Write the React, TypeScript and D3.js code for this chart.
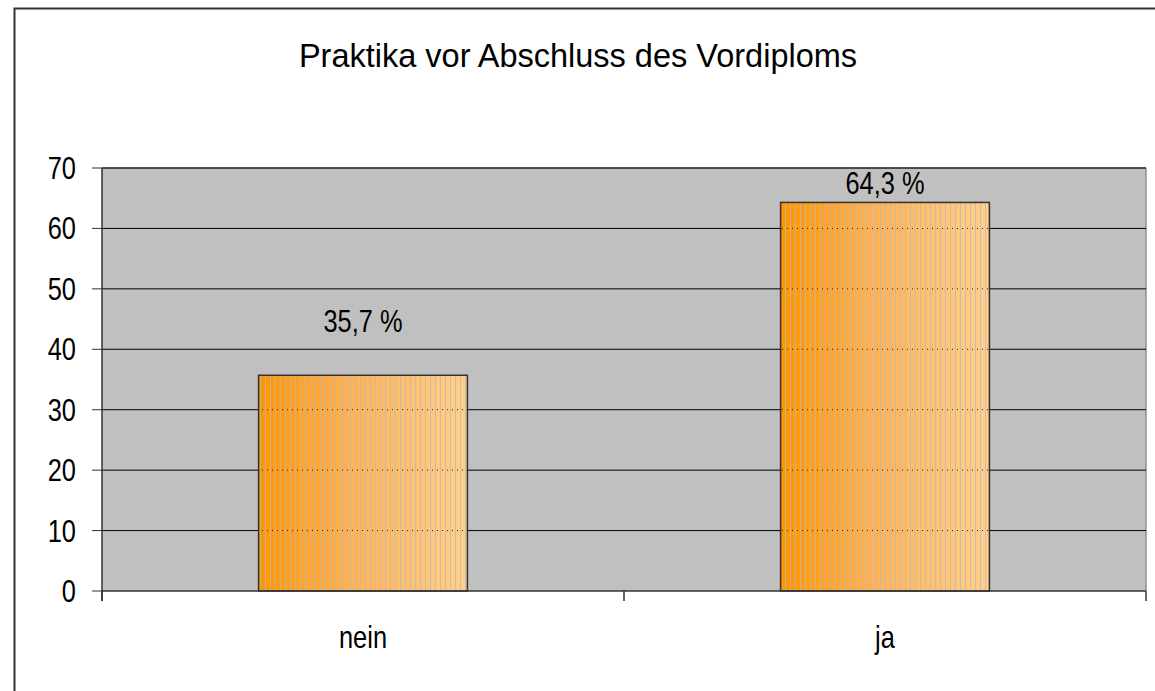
import * as d3 from "d3";

const categories = ["nein", "ja"];
const values = [35.7, 64.3];
const valueLabels = ["35,7 %", "64,3 %"];
const yTicks = [0, 10, 20, 30, 40, 50, 60, 70];
const title = "Praktika vor Abschluss des Vordiploms";

const W = 1155;
const H = 691;
const FONT = "'Liberation Sans', Arial, sans-serif";

// no Arial Narrow available, so squeeze Liberation Sans horizontally
function Narrow({ x, y, anchor = "middle", size = 31, children }: any) {
  return (
    <text
      transform={`translate(${x},${y}) scale(0.82,1)`}
      textAnchor={anchor}
      fontSize={size}
      fill="#000"
    >
      {children}
    </text>
  );
}

export default function App() {
  const left = 102;
  const right = 1146;
  const top = 168;
  const bottom = 591;

  const x = d3.scaleBand<string>().domain(categories).range([left, right]).padding(0);
  const y = d3.scaleLinear().domain([0, 70]).range([bottom, top]);
  const barW = x.bandwidth() * 0.4;
  // excel put the labels at slightly different heights
  const labelGap = [43, 8];

  return (
    <svg
      width={W}
      height={H}
      style={{ position: "absolute", left: 0, top: 0, background: "#fff" }}
      fontFamily={FONT}
    >
      <defs>
        <linearGradient id="barGrad" x1="0" x2="1" y1="0" y2="0">
          <stop offset="0%" stopColor="#ff9500" />
          <stop offset="45%" stopColor="#ffb255" />
          <stop offset="100%" stopColor="#ffd08c" />
        </linearGradient>
        <pattern id="stripes" width="5" height="10" patternUnits="userSpaceOnUse">
          <rect x="0" y="0" width="1" height="10" fill="#b8b8b8" opacity="0.75" />
        </pattern>
        <clipPath id="barClip">
          {categories.map((c, i) => (
            <rect
              key={c}
              x={(x(c) ?? 0) + (x.bandwidth() - barW) / 2}
              y={y(values[i])}
              width={barW}
              height={bottom - y(values[i])}
            />
          ))}
        </clipPath>
      </defs>

      {/* outer chart border */}
      <rect x={14.5} y={8.5} width={W} height={H} fill="#fff" stroke="#333" strokeWidth={2} />

      <text x={578} y={67} textAnchor="middle" fontSize={32.5} fill="#000">
        {title}
      </text>

      {/* plot area */}
      <rect x={left} y={top} width={right - left} height={bottom - top} fill="#c0c0c0" />
      <line x1={left} x2={right} y1={top} y2={top} stroke="#808080" strokeWidth={1.5} />
      <line x1={right} x2={right} y1={top} y2={bottom} stroke="#909090" strokeWidth={1.5} />

      {yTicks.slice(1).map((t) => (
        <line key={t} x1={left} x2={right} y1={y(t)} y2={y(t)} stroke="#000" strokeWidth={1} />
      ))}

      {categories.map((c, i) => {
        const bx = (x(c) ?? 0) + (x.bandwidth() - barW) / 2;
        const by = y(values[i]);
        return (
          <g key={c}>
            <rect x={bx} y={by} width={barW} height={bottom - by} fill="url(#barGrad)" />
            <rect x={bx} y={by} width={barW} height={bottom - by} fill="url(#stripes)" />
            <rect
              x={bx}
              y={by}
              width={barW}
              height={bottom - by}
              fill="none"
              stroke="#333"
              strokeWidth={1.5}
            />
          </g>
        );
      })}

      {/* gridlines showing through the bars as dots */}
      <g clipPath="url(#barClip)">
        {yTicks.slice(1).map((t) => (
          <line
            key={t}
            x1={left}
            x2={right}
            y1={y(t)}
            y2={y(t)}
            stroke="#222"
            strokeWidth={1}
            strokeDasharray="1 4"
          />
        ))}
      </g>

      {categories.map((c, i) => (
        <Narrow key={c} x={(x(c) ?? 0) + x.bandwidth() / 2} y={y(values[i]) - labelGap[i]}>
          {valueLabels[i]}
        </Narrow>
      ))}

      {/* y axis */}
      <line x1={left} x2={left} y1={top} y2={bottom + 10} stroke="#333" strokeWidth={1.5} />
      {yTicks.map((t) => (
        <g key={t}>
          <line x1={left - 10} x2={left} y1={y(t)} y2={y(t)} stroke="#333" strokeWidth={1} />
          <Narrow x={76} y={y(t) + 11} anchor="end">
            {t}
          </Narrow>
        </g>
      ))}

      {/* x axis */}
      <line x1={left} x2={right} y1={bottom} y2={bottom} stroke="#333" strokeWidth={1.5} />
      {[left, left + x.step(), right].map((tx, i) => (
        <line key={i} x1={tx} x2={tx} y1={bottom} y2={bottom + 10} stroke="#333" strokeWidth={1.5} />
      ))}
      {categories.map((c) => (
        <Narrow key={c} x={(x(c) ?? 0) + x.bandwidth() / 2} y={648}>
          {c}
        </Narrow>
      ))}
    </svg>
  );
}
